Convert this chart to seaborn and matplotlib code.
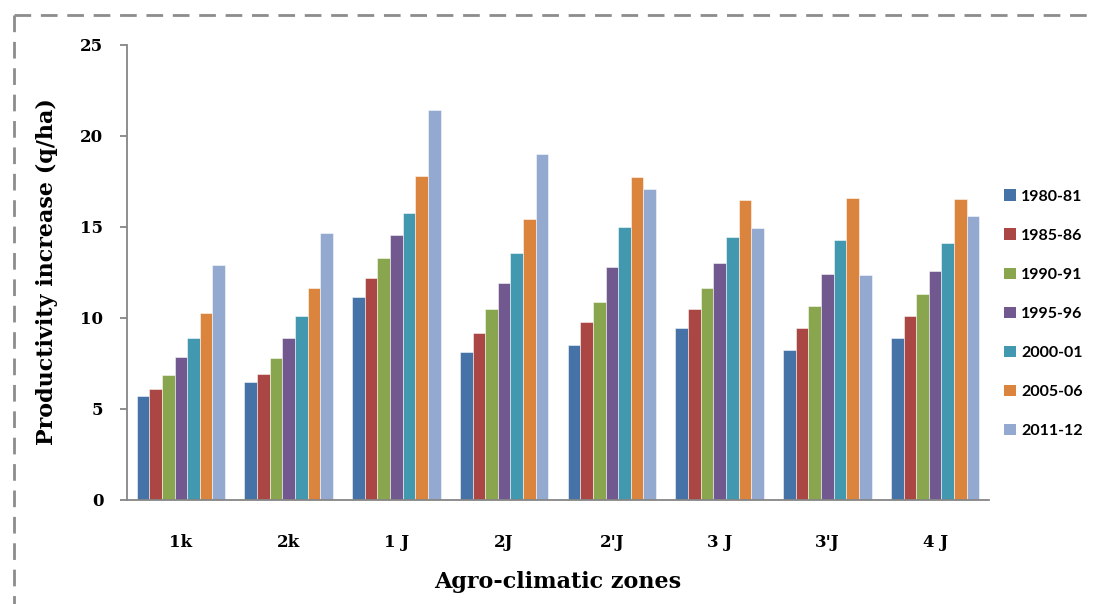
import matplotlib
matplotlib.use("Agg")
import matplotlib.pyplot as plt
from matplotlib.lines import Line2D
from matplotlib.patches import Patch
import seaborn as sns
import pandas as pd

# Agro-climatic zones and productivity increase (q/ha) per period
zones = ["1k", "2k", "1 J", "2J", "2'J", "3 J", "3'J", "4 J"]
periods = ["1980-81", "1985-86", "1990-91", "1995-96", "2000-01", "2005-06", "2011-12"]

v_1980_81 = [5.7, 6.45, 11.1, 8.1, 8.5, 9.4, 8.2, 8.85]
v_1985_86 = [6.05, 6.9, 12.15, 9.15, 9.75, 10.45, 9.45, 10.1]
v_1990_91 = [6.85, 7.8, 13.25, 10.45, 10.85, 11.6, 10.65, 11.3]
v_1995_96 = [7.85, 8.9, 14.55, 11.9, 12.75, 13.0, 12.4, 12.55]
v_2000_01 = [8.9, 10.1, 15.75, 13.55, 14.95, 14.45, 14.25, 14.1]
v_2005_06 = [10.25, 11.6, 17.8, 15.4, 17.7, 16.45, 16.55, 16.5]
v_2011_12 = [12.9, 14.65, 21.4, 19.0, 17.05, 14.9, 12.35, 15.6]

series = [v_1980_81, v_1985_86, v_1990_91, v_1995_96, v_2000_01, v_2005_06, v_2011_12]

colors = ["#4572A7", "#AA4643", "#89A54E", "#71588F", "#4198AF", "#DB843D", "#93A9CF"]

rows = []
for p, vals in zip(periods, series):
    for z, v in zip(zones, vals):
        rows.append({"zone": z, "period": p, "value": v})
df = pd.DataFrame(rows)

sns.set_style("white")
plt.rcParams["text.color"] = "black"
plt.rcParams["axes.labelcolor"] = "black"
serif = ["DejaVu Serif"]
W, H = 1094, 604
fig = plt.figure(figsize=(W / 100, H / 100), dpi=100)
ax = fig.add_axes([127 / W, (H - 499.5) / H, (989 - 127) / W, 455 / H])

sns.barplot(data=df, x="zone", y="value", hue="period", order=zones,
            hue_order=periods, palette=colors, saturation=1, width=0.82, gap=0,
            edgecolor=(1, 1, 1, 0.6), linewidth=0.6, ax=ax, legend=False)

ax.set_xlim(-0.5, len(zones) - 0.5)
ax.set_ylim(0, 25)
ax.set_yticks([0, 5, 10, 15, 20, 25])
ax.set_xlabel("")
ax.set_ylabel("")

spine_c = "#868686"
for s in ["top", "right"]:
    ax.spines[s].set_visible(False)
for s in ["left", "bottom"]:
    ax.spines[s].set_color(spine_c)
    ax.spines[s].set_linewidth(1.3)

# category labels centred, tick marks on the category boundaries
ax.set_xticks(range(len(zones)))
ax.set_xticklabels(zones, fontfamily=serif, fontweight="bold", fontsize=12)
ax.set_xticks([i - 0.5 for i in range(len(zones) + 1)], minor=True)
ax.tick_params(axis="x", which="major", length=0, pad=25, labelcolor="black")
ax.tick_params(axis="x", which="minor", length=5, width=1.3, color=spine_c)
ax.tick_params(axis="y", length=5, width=1.3, color=spine_c, pad=12,
               left=True, labelcolor="black")
for t in ax.get_yticklabels():
    t.set_fontfamily(serif)
    t.set_fontweight("bold")
    t.set_fontsize(12)

fig.text(47 / W, 1 - 272 / H, "Productivity increase (q/ha)", rotation=90,
         ha="center", va="center", fontfamily=serif, fontweight="bold",
         fontsize=16, color="black")
fig.text(558 / W, 1 - 582 / H, "Agro-climatic zones", ha="center",
         va="center", fontfamily=serif, fontweight="bold", fontsize=16,
         color="black")

handles = [Patch(facecolor=c, edgecolor="none") for c in colors]
leg = fig.legend(handles, periods, loc="upper left",
                 bbox_to_anchor=(998 / W, 1 - 183 / H), frameon=False,
                 prop={"family": ["Lato", "DejaVu Sans"], "weight": "bold", "size": 11.5},
                 handlelength=0.7, handleheight=0.7, handletextpad=0.35,
                 labelspacing=1.56, borderaxespad=0, labelcolor="black")

# dashed frame around the figure
dash = dict(color="#8c8c8c", linewidth=2, linestyle=(0, (6, 3.5)),
            transform=fig.transFigure)
fig.add_artist(Line2D([14 / W, 1], [1 - 15 / H, 1 - 15 / H], **dash))
fig.add_artist(Line2D([14 / W, 14 / W], [1 - 15 / H, 0], **dash))

fig.savefig("out.png", dpi=100)
